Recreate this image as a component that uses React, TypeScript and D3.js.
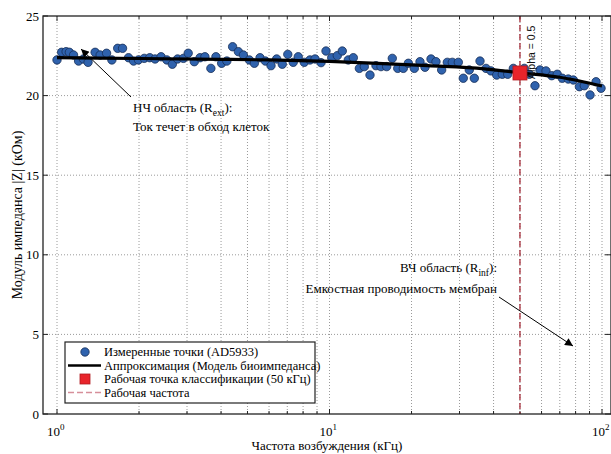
import React from "react";
import * as d3 from "d3";

// Measured points (AD5933): frequency (kHz) and |Z| (kOhm)
const freqs = [
  1.0, 1.04, 1.08, 1.11, 1.15, 1.2, 1.25, 1.3, 1.38, 1.44, 1.52, 1.59, 1.67, 1.74, 1.83, 1.91, 1.99, 2.09, 2.19, 2.29,
  2.41, 2.53, 2.65, 2.77, 2.91, 3.03, 3.19, 3.35, 3.49, 3.67, 3.83, 4.02, 4.2, 4.41, 4.63, 4.83, 5.08, 5.3, 5.56, 5.82,
  6.1, 6.4, 6.71, 7.03, 7.36, 7.68, 8.08, 8.48, 8.85, 9.31, 9.71, 10.19, 10.68, 11.14, 11.72, 12.23, 12.87, 13.42, 14.08, 14.81,
  15.45, 16.21, 17.0, 17.8, 18.66, 19.47, 20.48, 21.48, 22.41, 23.58, 24.59, 25.8, 27.06, 28.22, 29.7, 30.97, 32.58, 34.0, 35.67, 37.52,
  39.15, 41.08, 43.06, 45.08, 47.27, 49.5, 51.86, 54.1, 56.76, 59.22, 62.3, 65.4, 68.5, 71.5, 75.2, 78.5, 82.6, 86.1, 90.4, 95.1, 99.2,
];
const magnitudes = [
  22.24, 22.72, 22.76, 22.72, 22.55, 22.17, 22.3, 22.09, 22.72, 22.55, 22.66, 22.24, 22.97, 22.97, 22.38, 22.17, 22.24, 22.34, 22.38, 22.3,
  22.44, 22.24, 21.97, 22.3, 22.34, 22.66, 22.13, 22.38, 22.44, 21.71, 22.44, 22.03, 22.17, 23.07, 22.76, 22.55, 22.24, 22.03, 22.38, 22.17,
  21.88, 22.3, 21.97, 22.59, 22.09, 22.44, 22.09, 22.24, 22.3, 22.07, 22.8, 22.38, 22.51, 22.8, 22.24, 22.38, 21.71, 21.82, 21.29, 21.88,
  21.82, 21.82, 22.34, 21.71, 21.71, 22.03, 21.71, 22.13, 21.78, 22.3, 22.13, 21.61, 22.09, 22.09, 22.09, 21.09, 21.61, 21.09, 22.17, 21.71,
  21.55, 21.29, 21.34, 21.34, 21.71, 21.48, 21.71, 21.34, 20.62, 21.61, 21.55, 21.25, 21.34, 21.09, 21.04, 20.98, 20.56, 20.62, 20.04, 20.87, 20.46,
];

// Fitted bioimpedance model curve
const fitFreqs = [1, 2, 4, 6, 10, 15, 23, 37, 50, 70, 100];
const fitValues = [22.38, 22.33, 22.28, 22.24, 22.15, 22.03, 21.88, 21.68, 21.43, 21.15, 20.6];

// Operating point
const opFreq = 50;
const opValue = 21.42;

const yTicks = [0, 5, 10, 15, 20, 25];
const xMajor = [1, 10, 100];
const xMinor = [2, 3, 4, 5, 6, 7, 8, 9, 20, 30, 40, 50, 60, 70, 80, 90];

const legendItems = [
  "Измеренные точки (AD5933)",
  "Аппроксимация (Модель биоимпеданса)",
  "Рабочая точка классификации (50 кГц)",
  "Рабочая частота",
];

const W = 611;
const H = 454;
const L = 43, R = 611, T = 16, B = 414;

export default function App() {
  const x0 = d3.scaleLog().domain([1, 100]).range([57, 602]);
  const x = d3.scaleLog().domain([x0.invert(L), x0.invert(R)]).range([L, R]);
  const y = d3.scaleLinear().domain([0, 25]).range([B, T]);

  const line = d3
    .line<number>()
    .x((_, i) => x(fitFreqs[i]))
    .y((d) => y(d))
    .curve(d3.curveMonotoneX);

  const serif = "'Liberation Serif', 'Times New Roman', serif";
  const axisColor = "#222";
  const gridColor = "#9a9a9a";
  const blueFill = "#2f62ad";
  const blueEdge = "#162d55";
  const ink = "#000";

  const legendRows = [352, 365.5, 379, 392.5];

  return (
    <svg
      width={W}
      height={H}
      style={{ position: "absolute", left: 0, top: 0, background: "#fff" }}
      fontFamily={serif}
    >
      <defs>
        <marker id="arr" viewBox="0 0 10 10" refX="10" refY="5" markerWidth="11" markerHeight="8" markerUnits="userSpaceOnUse" orient="auto">
          <path d="M0,0 L10,5 L0,10 z" fill="#000" />
        </marker>
      </defs>
      <rect x={0} y={0} width={W} height={H} fill="#fff" />

      {/* grid */}
      <g stroke={gridColor} strokeWidth={1} strokeDasharray="1,2">
        {[...xMajor, ...xMinor].map((v) => (
          <line key={"gx" + v} x1={x(v)} x2={x(v)} y1={T} y2={B} />
        ))}
        {yTicks.slice(1, -1).map((v) => (
          <line key={"gy" + v} x1={L} x2={R} y1={y(v)} y2={y(v)} />
        ))}
      </g>

      {/* ticks */}
      <g stroke={axisColor} strokeWidth={1}>
        {xMajor.map((v) => (
          <g key={"tx" + v}>
            <line x1={x(v)} x2={x(v)} y1={B} y2={B - 5} />
            <line x1={x(v)} x2={x(v)} y1={T} y2={T + 5} />
          </g>
        ))}
        {xMinor.map((v) => (
          <g key={"tm" + v}>
            <line x1={x(v)} x2={x(v)} y1={B} y2={B - 3} />
            <line x1={x(v)} x2={x(v)} y1={T} y2={T + 3} />
          </g>
        ))}
        {yTicks.map((v) => (
          <g key={"ty" + v}>
            <line x1={L} x2={L + 5} y1={y(v)} y2={y(v)} />
            <line x1={R} x2={R - 6} y1={y(v)} y2={y(v)} />
          </g>
        ))}
      </g>

      {/* operating frequency line */}
      <line x1={x(opFreq)} x2={x(opFreq)} y1={T} y2={B} stroke="#9e1c2a" strokeWidth={1.2} strokeDasharray="6,3" />

      {/* points */}
      <g>
        {freqs.map((f, i) => (
          <circle key={"p" + i} cx={x(f)} cy={y(magnitudes[i])} r={4.2} fill={blueFill} stroke={blueEdge} strokeWidth={0.8} />
        ))}
      </g>

      {/* fit line */}
      <path d={line(fitValues) || ""} fill="none" stroke="#000" strokeWidth={3.2} />

      {/* alpha text */}
      <text
        transform={`translate(${x(opFreq) + 15},${y(opValue) + 6}) rotate(-90)`}
        fontFamily="'Liberation Sans', Arial, sans-serif"
        fontSize={10.5}
        fill="#111"
      >
        Alpha = 0.5
      </text>

      {/* operating point */}
      <rect x={x(opFreq) - 7} y={y(opValue) - 7} width={14} height={14} fill="#e8242b" stroke="#b01a20" strokeWidth={0.8} />

      {/* axes box */}
      <rect x={L} y={T} width={R - L} height={B - T} fill="none" stroke={axisColor} strokeWidth={1.3} />

      {/* y tick labels */}
      <g fontSize={13} fill={ink} textAnchor="end">
        {yTicks.map((v) => (
          <text key={"yl" + v} x={39} y={y(v) + 4.5}>
            {v}
          </text>
        ))}
      </g>

      {/* x tick labels */}
      <g fontSize={13} fill={ink}>
        {xMajor.map((v) => (
          <text key={"xl" + v} x={x(v) - 10} y={436}>
            10
            <tspan fontSize={9} dy={-6}>
              {Math.round(Math.log10(v))}
            </tspan>
          </text>
        ))}
      </g>

      {/* axis titles */}
      <text x={327} y={450} fontSize={13} textAnchor="middle" fill={ink}>
        Частота возбуждения (кГц)
      </text>
      <text transform="translate(22,215) rotate(-90)" fontSize={14} textAnchor="middle" fill={ink}>
        Модуль импеданса |Z| (кОм)
      </text>

      {/* annotations */}
      <line x1={131} y1={97} x2={81} y2={49} stroke="#000" strokeWidth={1} markerEnd="url(#arr)" />
      <text x={133} y={112} fontSize={13} fill={ink}>
        НЧ область (R
        <tspan fontSize={9.5} dy={4}>ext</tspan>
        <tspan dy={-4}>):</tspan>
      </text>
      <text x={133} y={131} fontSize={13} fill={ink}>
        Ток течет в обход клеток
      </text>

      <line x1={499} y1={297} x2={573} y2={346} stroke="#000" strokeWidth={1} markerEnd="url(#arr)" />
      <text x={497} y={272} fontSize={13} fill={ink} textAnchor="end">
        ВЧ область (R
        <tspan fontSize={9.5} dy={4}>inf</tspan>
        <tspan dy={-4}>):</tspan>
      </text>
      <text x={497} y={293} fontSize={13} fill={ink} textAnchor="end">
        Емкостная проводимость мембран
      </text>

      {/* legend */}
      <rect x={65} y={342} width={250} height={61} fill="#fff" stroke={axisColor} strokeWidth={1.2} />
      <circle cx={85} cy={legendRows[0]} r={4.2} fill={blueFill} stroke={blueEdge} strokeWidth={0.8} />
      <line x1={68} x2={101} y1={legendRows[1]} y2={legendRows[1]} stroke="#000" strokeWidth={2.5} />
      <rect x={80} y={legendRows[2] - 5} width={10} height={10} fill="#e8242b" stroke="#b01a20" strokeWidth={0.8} />
      <line x1={68} x2={101} y1={legendRows[3]} y2={legendRows[3]} stroke="#d68f9a" strokeWidth={1.5} strokeDasharray="6,3" />
      <g fontSize={12.5} fill={ink}>
        {legendItems.map((t, i) => (
          <text key={"lg" + i} x={104} y={legendRows[i] + 4}>
            {t}
          </text>
        ))}
      </g>
    </svg>
  );
}
